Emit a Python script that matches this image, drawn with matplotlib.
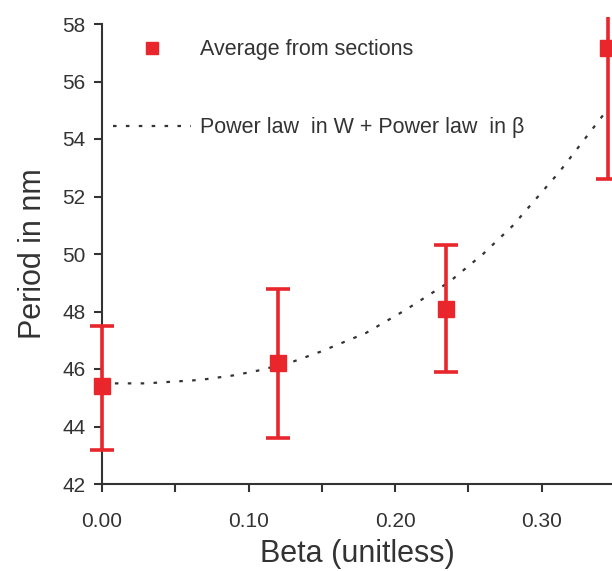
import numpy as np
import matplotlib
matplotlib.use('Agg')
import matplotlib.pyplot as plt
from matplotlib.ticker import MultipleLocator, FormatStrFormatter

plt.rcParams['font.family'] = ['Liberation Sans', 'DejaVu Sans']

# measured averages with error bars
beta = [0.0, 0.12, 0.235, 0.345]
period = [45.4, 46.2, 48.1, 57.15]
err_lo = [43.2, 43.6, 45.9, 52.6]
err_hi = [47.5, 48.8, 50.3, 58.25]   # last bar runs off the top of the frame

# fitted curve
fit_beta = [0.0, 0.03, 0.067, 0.09, 0.108, 0.13, 0.149, 0.18, 0.207, 0.237,
            0.26, 0.28, 0.312, 0.343]
fit_period = [45.5, 45.5, 45.62, 45.78, 45.96, 46.25, 46.6, 47.25, 48.05,
              49.03, 50.0, 50.97, 52.85, 54.9]

RED = '#e8262b'
INK = '#333333'

fig = plt.figure(figsize=(6.12, 5.71), dpi=100)
ax = fig.add_axes([102/612, 87/571, 510/612, 460/571])

ax.plot(fit_beta, fit_period, color=INK, lw=1.6, ls=(0, (1.6, 4.2)),
        label='Power law  in W + Power law  in \u03b2', zorder=2)

# error bars: vertical lines, caps drawn separately (no top cap on last one)
ax.vlines(beta, err_lo, err_hi, color=RED, lw=2.6, zorder=3, clip_on=False)
ax.plot(beta, err_lo, ls='none', marker='_', ms=17, mew=2.6, color=RED,
        zorder=3, clip_on=False)
ax.plot(beta[:3], err_hi[:3], ls='none', marker='_', ms=17, mew=2.6, color=RED,
        zorder=3, clip_on=False)
ax.plot(beta, period, ls='none', marker='s', ms=12, color=RED,
        label='Average from sections', zorder=4, clip_on=False)

ax.set_xlim(0, 0.348)
ax.set_ylim(42, 58)
ax.xaxis.set_major_locator(MultipleLocator(0.1))
ax.xaxis.set_minor_locator(MultipleLocator(0.05))
ax.yaxis.set_major_locator(MultipleLocator(2))
ax.xaxis.set_major_formatter(FormatStrFormatter('%.2f'))

for s in ('top', 'right'):
    ax.spines[s].set_visible(False)
for s in ('left', 'bottom'):
    ax.spines[s].set_color(INK)
    ax.spines[s].set_linewidth(1.5)
ax.tick_params(which='both', direction='out', length=6, width=1.5,
               color=INK, labelcolor=INK, labelsize=15)
ax.tick_params(axis='x', which='both', pad=14)
ax.tick_params(axis='y', pad=6)

ax.set_xlabel('Beta (unitless)', fontsize=22, color=INK, labelpad=6)
ax.set_ylabel('Period in nm', fontsize=22, color=INK, labelpad=10)

h, l = ax.get_legend_handles_labels()
ax.legend(h[::-1], l[::-1], loc='upper left', bbox_to_anchor=(-0.016, 1.009),
          frameon=False, fontsize=15.5, handlelength=3.6, handletextpad=0.45,
          labelspacing=2.65, labelcolor=INK, markerscale=0.75)

fig.savefig('out.png', dpi=100)
